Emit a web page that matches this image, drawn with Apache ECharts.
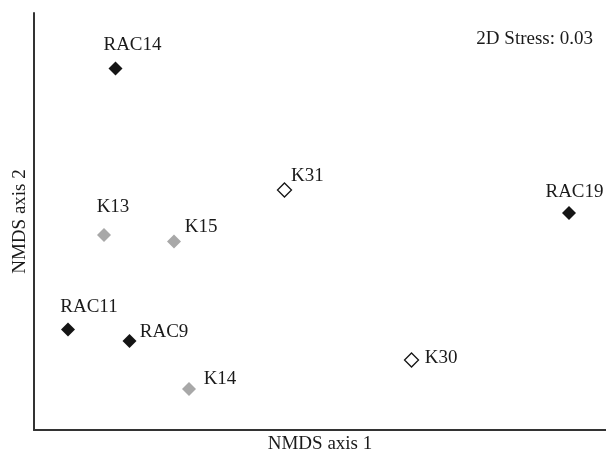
<!DOCTYPE html>
<html>
<head>
<meta charset="utf-8">
<script src="https://cdn.jsdelivr.net/npm/echarts@6/dist/echarts.min.js"></script>
<style>html,body{margin:0;padding:0;background:#fff}#c{width:606px;height:454px}</style>
</head>
<body>
<div id="c"></div>
<script>
var names = ['RAC14','K31','K13','K15','RAC19','RAC11','RAC9','K30','K14'];
var xs = [14.25, 43.79, 12.24, 24.48, 93.53, 5.94, 16.70, 66.0, 27.10];
var ys = [86.69, 57.55, 46.76, 45.20, 52.04, 24.10, 21.34, 16.79, 9.83];
var groups = ['RAC','K-open','K-gray','K-gray','RAC','RAC','RAC','K-open','K-gray'];
var stressText = '2D Stress: 0.03';
var xTitle = 'NMDS axis 1';
var yTitle = 'NMDS axis 2';

var labelOffset = {
  RAC14: [17, -23], K31: [23, -14.5], K13: [9, -28], K15: [27, -14.5],
  RAC19: [5.5, -21], RAC11: [21, -22.5], RAC9: [34.5, -8.5], K30: [29.5, -2], K14: [31, -10]
};
var groupStyle = {
  'RAC': {color: '#151515', borderColor: '#151515', borderWidth: 0, opacity: 1},
  'K-gray': {color: '#a8a8a8', borderColor: '#a8a8a8', borderWidth: 0, opacity: 1},
  'K-open': {color: '#ffffff', borderColor: '#151515', borderWidth: 1.3, opacity: 1}
};
var FONT = 'Liberation Serif';
var data = names.map(function (n, i) {
  return {
    name: n,
    value: [xs[i], ys[i]],
    itemStyle: groupStyle[groups[i]],
    label: {offset: labelOffset[n]}
  };
});
var chart = echarts.init(document.getElementById('c'));
chart.setOption({
  animation: false,
  grid: {left: 34, right: 0, top: 13, bottom: 24, outerBoundsMode: 'none', containLabel: false},
  xAxis: {
    type: 'value', min: 0, max: 100,
    axisLine: {show: true, lineStyle: {color: '#333', width: 2}},
    axisTick: {show: false}, axisLabel: {show: false}, splitLine: {show: false},
    name: xTitle, nameLocation: 'middle', nameGap: 5,
    nameTextStyle: {fontFamily: FONT, fontSize: 19, color: '#1a1a1a'}
  },
  yAxis: {
    type: 'value', min: 0, max: 100,
    axisLine: {show: true, lineStyle: {color: '#333', width: 2}},
    axisTick: {show: false}, axisLabel: {show: false}, splitLine: {show: false},
    name: yTitle, nameLocation: 'middle', nameGap: 4,
    nameTextStyle: {fontFamily: FONT, fontSize: 19, color: '#1a1a1a'}
  },
  graphic: [{
    type: 'text', x: 593, y: 39,
    style: {text: stressText, fontFamily: FONT, fontSize: 19, fill: '#1a1a1a',
            align: 'right', verticalAlign: 'middle'}
  }],
  series: [{
    type: 'scatter',
    symbol: 'diamond',
    symbolSize: 14,
    data: data,
    label: {
      show: true, position: 'inside', formatter: '{b}',
      fontFamily: FONT, fontSize: 19, color: '#1a1a1a',
      align: 'center', verticalAlign: 'middle'
    }
  }]
});
</script>
</body>
</html>
